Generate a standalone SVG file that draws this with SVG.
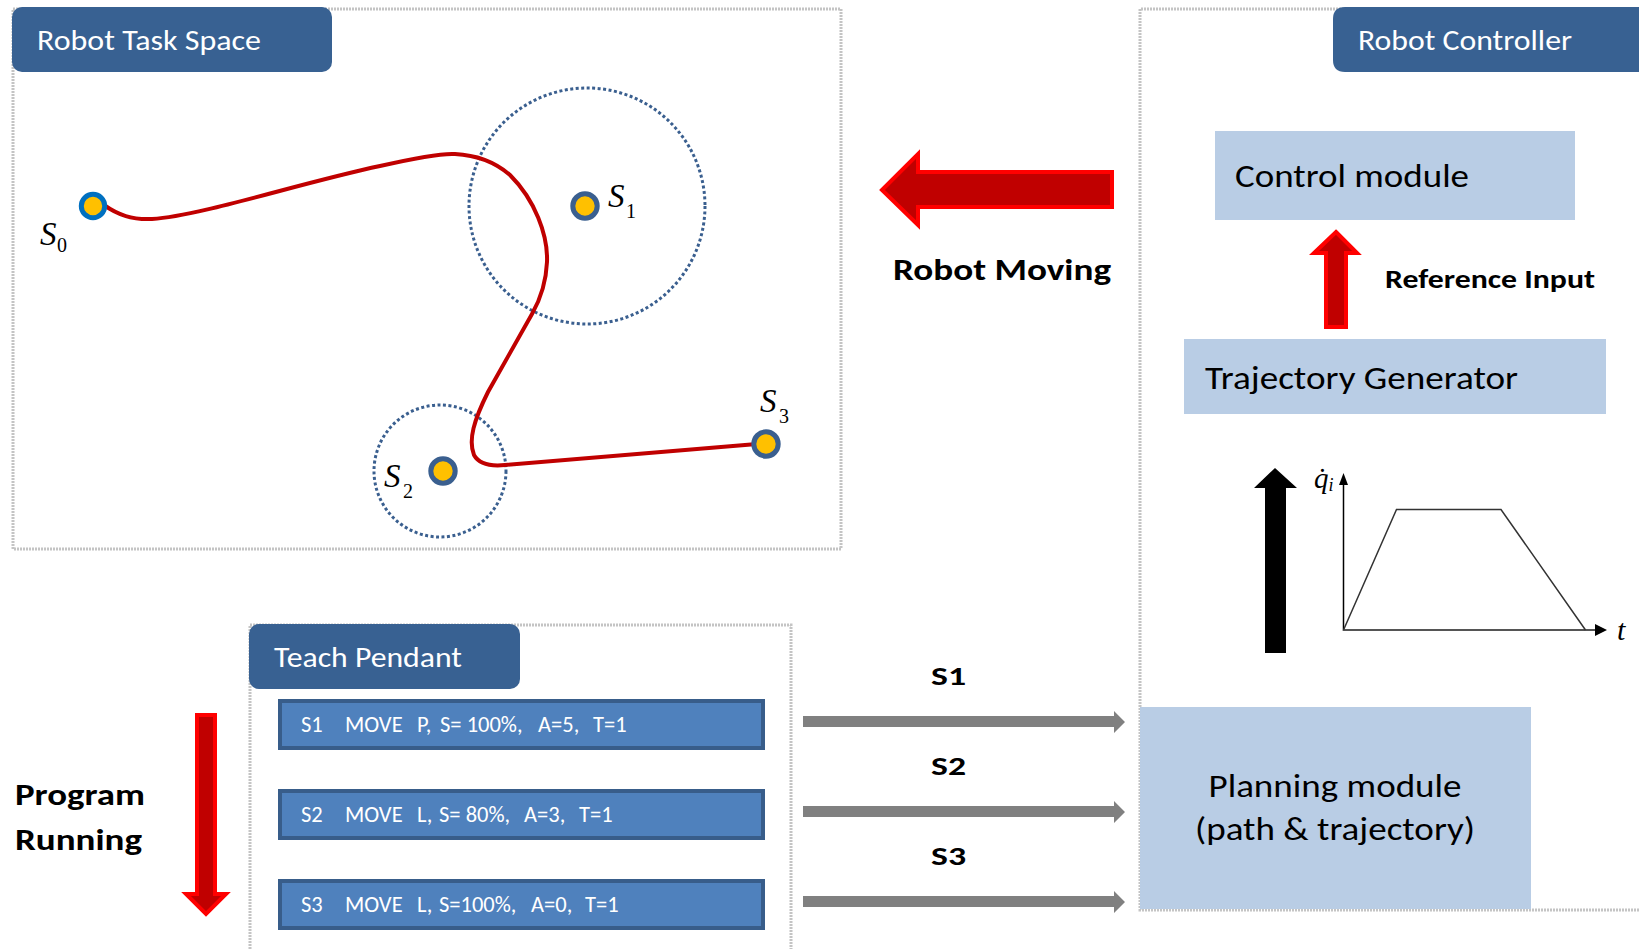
<svg xmlns="http://www.w3.org/2000/svg" width="1639" height="949" viewBox="0 0 1639 949">
<style>
.panel{fill:none;stroke:#C4C4C4;stroke-width:3;stroke-dasharray:2 1}
.tab{fill:#386192}
.tabtxt{font-family:Carlito,Lato,"Liberation Sans",sans-serif;font-size:28px;fill:#FFFFFF}
.box{fill:#B9CDE5}
.boxtxt{font-family:Carlito,Lato,"Liberation Sans",sans-serif;font-size:32px;fill:#000000}
.bold{font-family:Carlito,Lato,"Liberation Sans",sans-serif;font-weight:bold;fill:#000000}
.cmd{fill:#4F81BD;stroke:#385D8A;stroke-width:4}
.cmdtxt{font-family:Carlito,Lato,"Liberation Sans",sans-serif;font-size:22.5px;fill:#FFFFFF}
.pt{fill:#FFC000;stroke-width:5}
.zone{fill:none;stroke:#3A5F8F;stroke-width:3;stroke-dasharray:3 2.5}
.math{font-family:"Liberation Serif",serif;font-style:italic;fill:#000000}
.sub{font-family:"Liberation Serif",serif;font-size:20px;fill:#000000}
.redarrow{fill:#C00000;stroke:#FF0000;stroke-width:4;stroke-linejoin:miter}
.grey{fill:#808080}
</style>

<!-- Robot Task Space panel -->
<g id="task-space">
  <rect class="panel" x="13" y="9" width="828" height="540"/>
  <rect class="tab" x="12" y="7" width="320" height="65" rx="10"/>
  <text class="tabtxt" x="37" y="50" textLength="224" lengthAdjust="spacingAndGlyphs">Robot Task Space</text>
  <circle class="zone" cx="587" cy="206" r="118"/>
  <circle class="zone" cx="440" cy="471" r="66"/>
  <path d="M 104,205 C 118,215 132,220 152,219 C 200,216 300,183 380,166 C 415,158 440,153 455,154 C 475,155 495,162 510,175 C 535,200 548,235 547,262 C 546,285 540,300 532,314 L 488,392 C 474,420 468,440 474,455 C 480,466 495,466 505,465 L 757,444" fill="none" stroke="#C00000" stroke-width="4" stroke-linecap="round"/>
</g>
<g id="S0">
  <circle class="pt" cx="93" cy="206" r="11.7" stroke="#0070C0"/>
  <text class="math" x="40" y="245" font-size="33">S</text><text class="sub" x="57" y="252">0</text>
</g>
<g id="S1">
  <circle class="pt" cx="585" cy="206" r="12.2" stroke="#3A5F8F"/>
  <text class="math" x="608" y="207" font-size="33">S</text><text class="sub" x="626" y="218">1</text>
</g>
<g id="S2">
  <circle class="pt" cx="443" cy="471" r="12.2" stroke="#3A5F8F"/>
  <text class="math" x="384" y="487" font-size="33">S</text><text class="sub" x="403" y="498">2</text>
</g>
<g id="S3">
  <circle class="pt" cx="766" cy="444" r="12.2" stroke="#3A5F8F"/>
  <text class="math" x="760" y="412" font-size="33">S</text><text class="sub" x="779" y="423">3</text>
</g>

<!-- Robot Controller panel -->
<g id="robot-controller">
  <path class="panel" d="M 1639,910 L 1140,910 L 1140,9 L 1345,9"/>
  <path class="tab" d="M 1345,7 L 1639,7 L 1639,72 L 1345,72 Q 1333,72 1333,60 L 1333,19 Q 1333,7 1345,7 Z"/>
  <text class="tabtxt" x="1358" y="50" textLength="214" lengthAdjust="spacingAndGlyphs">Robot Controller</text>
</g>
<g id="control-module">
  <rect class="box" x="1215" y="131" width="360" height="89"/>
  <text class="boxtxt" x="1235" y="187" textLength="234" lengthAdjust="spacingAndGlyphs">Control module</text>
</g>
<g id="trajectory-generator">
  <rect class="box" x="1184" y="339" width="422" height="75"/>
  <text class="boxtxt" x="1205" y="389" textLength="313" lengthAdjust="spacingAndGlyphs">Trajectory Generator</text>
</g>
<g id="planning-module">
  <rect class="box" x="1140" y="707" width="391" height="202"/>
  <text class="boxtxt" x="1335" y="797" text-anchor="middle" textLength="253" lengthAdjust="spacingAndGlyphs">Planning module</text>
  <text class="boxtxt" x="1335" y="840" text-anchor="middle" textLength="280" lengthAdjust="spacingAndGlyphs">(path &amp; trajectory)</text>
</g>
<g id="velocity-profile">
  <line x1="1343.5" y1="631" x2="1343.5" y2="484" stroke="#000" stroke-width="1.5"/>
  <polygon points="1343.5,473 1348,485 1339,485" fill="#000"/>
  <line x1="1343" y1="630" x2="1596" y2="630" stroke="#555" stroke-width="2.2"/>
  <polygon points="1607,630 1595,624 1595,636" fill="#000"/>
  <polyline points="1343.5,630 1396.5,509.5 1501,509.5 1585.5,630" fill="none" stroke="#333" stroke-width="1.5"/>
  <text class="math" x="1314" y="488" font-size="29">q̇<tspan font-size="18" dy="3">i</tspan></text>
  <text class="math" x="1617" y="640" font-size="30">t</text>
</g>

<!-- Teach Pendant panel -->
<g id="teach-pendant">
  <path class="panel" d="M 250,949 L 250,625 L 791,625 L 791,949"/>
  <rect class="tab" x="249" y="624" width="271" height="65" rx="10"/>
  <text class="tabtxt" x="274" y="667" textLength="188" lengthAdjust="spacingAndGlyphs">Teach Pendant</text>
</g>
<g id="cmd-S1">
  <rect class="cmd" x="280" y="701" width="483" height="47"/>
  <text class="cmdtxt" y="732"><tspan x="301">S1</tspan><tspan x="345">MOVE</tspan><tspan x="417">P,</tspan><tspan x="440">S= 100%,</tspan><tspan x="538">A=5,</tspan><tspan x="593">T=1</tspan></text>
</g>
<g id="cmd-S2">
  <rect class="cmd" x="280" y="791" width="483" height="47"/>
  <text class="cmdtxt" y="822"><tspan x="301">S2</tspan><tspan x="345">MOVE</tspan><tspan x="417">L,</tspan><tspan x="439">S= 80%,</tspan><tspan x="524">A=3,</tspan><tspan x="579">T=1</tspan></text>
</g>
<g id="cmd-S3">
  <rect class="cmd" x="280" y="881" width="483" height="47"/>
  <text class="cmdtxt" y="912"><tspan x="301">S3</tspan><tspan x="345">MOVE</tspan><tspan x="417">L,</tspan><tspan x="439">S=100%,</tspan><tspan x="531">A=0,</tspan><tspan x="585">T=1</tspan></text>
</g>

<!-- Connectors / arrows -->
<g id="connectors">
  <polygon class="redarrow" points="882,190 918,154 918,172 1112,172 1112,207 918,207 918,225"/>
  <polygon class="redarrow" points="1336,232 1357,253 1346,253 1346,327 1326,327 1326,253 1314,253"/>
  <polygon class="redarrow" points="197,715 215,715 215,894 226,894 206,914 186,894 197,894"/>
  <polygon points="1275,468 1297,488 1286,488 1286,653 1265,653 1265,488 1254,488" fill="#000"/>
  <polygon class="grey" points="803,716 1114,716 1114,711 1125,722 1114,733 1114,727 803,727"/>
  <polygon class="grey" points="803,806 1114,806 1114,801 1125,812 1114,823 1114,817 803,817"/>
  <polygon class="grey" points="803,896 1114,896 1114,891 1125,902 1114,913 1114,907 803,907"/>
</g>

<!-- Free labels -->
<g id="labels">
  <text class="bold" x="893" y="280" font-size="31" textLength="218" lengthAdjust="spacingAndGlyphs">Robot Moving</text>
  <text class="bold" x="1385" y="288" font-size="27" textLength="210" lengthAdjust="spacingAndGlyphs">Reference Input</text>
  <text class="bold" x="15" y="805" font-size="31" textLength="130" lengthAdjust="spacingAndGlyphs">Program</text>
  <text class="bold" x="15" y="850" font-size="31" textLength="127" lengthAdjust="spacingAndGlyphs">Running</text>
  <text class="bold" x="931" y="685" font-size="27" textLength="35" lengthAdjust="spacingAndGlyphs">S1</text>
  <text class="bold" x="931" y="775" font-size="27" textLength="35" lengthAdjust="spacingAndGlyphs">S2</text>
  <text class="bold" x="931" y="865" font-size="27" textLength="35" lengthAdjust="spacingAndGlyphs">S3</text>
</g>
</svg>
